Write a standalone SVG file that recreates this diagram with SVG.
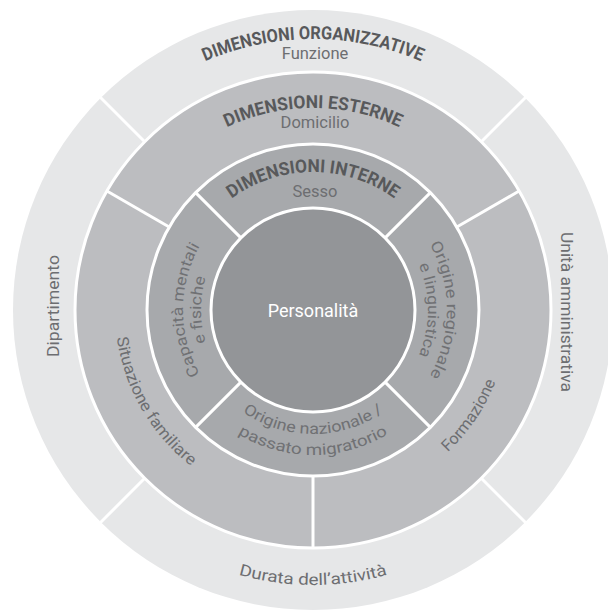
<svg xmlns="http://www.w3.org/2000/svg" width="608" height="611" viewBox="0 0 608 611">
<style>
.h{font-family:Roboto,"Liberation Sans",sans-serif;font-weight:bold;fill:#58595b;font-size:18px}
.s{font-family:Roboto,"Liberation Sans",sans-serif;fill:#6d6e71;font-size:16.5px}
.o{font-family:Roboto,"Liberation Sans",sans-serif;fill:#6d6e71;font-size:16px}
.t{font-family:Roboto,"Liberation Sans",sans-serif;fill:#707174;font-size:15.5px}
.div{stroke:#ffffff;stroke-width:3;fill:none}
</style>
<defs>
<path id="pOrg" d="M42,310 A271,271 0 0 1 584,310"/>
<path id="pExt" d="M111,310 A202,202 0 0 1 515,310"/>
<path id="pInt" d="M175,310 A138,138 0 0 1 451,310"/>
<path id="pCap1" d="M313,440 A130,130 0 0 1 313,180"/>
<path id="pCap2" d="M313,422 A112,112 0 0 1 313,198"/>
<path id="pReg1" d="M313,176 A134,134 0 0 1 313,444"/>
<path id="pReg2" d="M313,195 A115,115 0 0 1 313,425"/>
<path id="pNaz1" d="M189,310 A124,124 0 0 0 437,310"/>
<path id="pNaz2" d="M168,310 A145,145 0 0 0 458,310"/>
<path id="pSit" d="M214,138.5 A198,198 0 0 0 412,481.5"/>
<path id="pFor" d="M203.4,472.5 A196,196 0 0 0 422.6,147.5"/>
<path id="pDur" d="M38,310 A275,275 0 0 0 588,310"/>
</defs>
<rect width="608" height="611" fill="#ffffff"/>
<g id="ring-organizzative">
<circle cx="313" cy="310" r="300" fill="#e6e7e8"/>
</g>
<g id="ring-esterne">
<circle cx="313" cy="310" r="238" fill="#bcbdc0" stroke="#ffffff" stroke-width="3"/>
</g>
<g id="ring-interne">
<circle cx="313" cy="310" r="166" fill="#a7a9ac" stroke="#ffffff" stroke-width="3"/>
</g>
<g id="personalita">
<circle cx="313" cy="310" r="102" fill="#939598" stroke="#ffffff" stroke-width="3"/>
<text x="313" y="317" text-anchor="middle" style="font-family:Roboto,'Liberation Sans',sans-serif;font-size:18px;fill:#ffffff">Personalità</text>
</g>
<g id="connectors">
<line class="div" x1="144.7" y1="141.7" x2="99.5" y2="96.5"/>
<line class="div" x1="481.3" y1="141.7" x2="526.5" y2="96.5"/>
<line class="div" x1="144.7" y1="478.3" x2="99.5" y2="523.5"/>
<line class="div" x1="481.3" y1="478.3" x2="526.5" y2="523.5"/>
<line class="div" x1="169.2" y1="227" x2="106.9" y2="191"/>
<line class="div" x1="456.8" y1="227" x2="519.1" y2="191"/>
<line class="div" x1="313" y1="476" x2="313" y2="548"/>
<line class="div" x1="240.9" y1="237.9" x2="195.6" y2="192.6"/>
<line class="div" x1="385.1" y1="237.9" x2="430.4" y2="192.6"/>
<line class="div" x1="240.9" y1="382.1" x2="195.6" y2="427.4"/>
<line class="div" x1="385.1" y1="382.1" x2="430.4" y2="427.4"/>
</g>
<g id="label-organizzative">
<text class="h"><textPath href="#pOrg" startOffset="50%" text-anchor="middle" textLength="222" lengthAdjust="spacingAndGlyphs">DIMENSIONI ORGANIZZATIVE</textPath></text>
<text class="s" x="315" y="59" text-anchor="middle">Funzione</text>
</g>
<g id="label-dipartimento">
<text class="o" transform="translate(59,306) rotate(-90)" text-anchor="middle" textLength="102" lengthAdjust="spacingAndGlyphs">Dipartimento</text>
</g>
<g id="label-unita">
<text class="o" transform="translate(561,312) rotate(90)" text-anchor="middle" textLength="160" lengthAdjust="spacingAndGlyphs">Unità amministrativa</text>
</g>
<g id="label-durata">
<text class="o"><textPath href="#pDur" startOffset="50%" text-anchor="middle" textLength="151" lengthAdjust="spacingAndGlyphs">Durata dell’attività</textPath></text>
</g>
<g id="label-esterne">
<text class="h"><textPath href="#pExt" startOffset="50%" text-anchor="middle" textLength="178" lengthAdjust="spacingAndGlyphs">DIMENSIONI ESTERNE</textPath></text>
<text class="s" x="315" y="128" text-anchor="middle">Domicilio</text>
</g>
<g id="label-situazione">
<text class="o"><textPath href="#pSit" startOffset="50%" text-anchor="middle" textLength="152" lengthAdjust="spacingAndGlyphs">Situazione familiare</textPath></text>
</g>
<g id="label-formazione">
<text class="o"><textPath href="#pFor" startOffset="50%" text-anchor="middle" textLength="86" lengthAdjust="spacingAndGlyphs">Formazione</textPath></text>
</g>
<g id="label-interne">
<text class="h"><textPath href="#pInt" startOffset="50%" text-anchor="middle" textLength="174" lengthAdjust="spacingAndGlyphs">DIMENSIONI INTERNE</textPath></text>
<text class="s" x="315" y="197" text-anchor="middle">Sesso</text>
</g>
<g id="label-capacita">
<text class="t"><textPath href="#pCap1" startOffset="50%" text-anchor="middle" textLength="134" lengthAdjust="spacingAndGlyphs">Capacità mentali</textPath></text>
<text class="t"><textPath href="#pCap2" startOffset="50%" text-anchor="middle" textLength="66" lengthAdjust="spacingAndGlyphs">e fisiche</textPath></text>
</g>
<g id="label-regionale">
<text class="t"><textPath href="#pReg1" startOffset="50%" text-anchor="middle" textLength="138" lengthAdjust="spacingAndGlyphs">Origine regionale</textPath></text>
<text class="t"><textPath href="#pReg2" startOffset="50%" text-anchor="middle" textLength="93" lengthAdjust="spacingAndGlyphs">e linguistica</textPath></text>
</g>
<g id="label-nazionale">
<text class="t"><textPath href="#pNaz1" startOffset="50%" text-anchor="middle" textLength="150" lengthAdjust="spacingAndGlyphs">Origine nazionale /</textPath></text>
<text class="t"><textPath href="#pNaz2" startOffset="50%" text-anchor="middle" textLength="158" lengthAdjust="spacingAndGlyphs">passato migratorio</textPath></text>
</g>
</svg>
